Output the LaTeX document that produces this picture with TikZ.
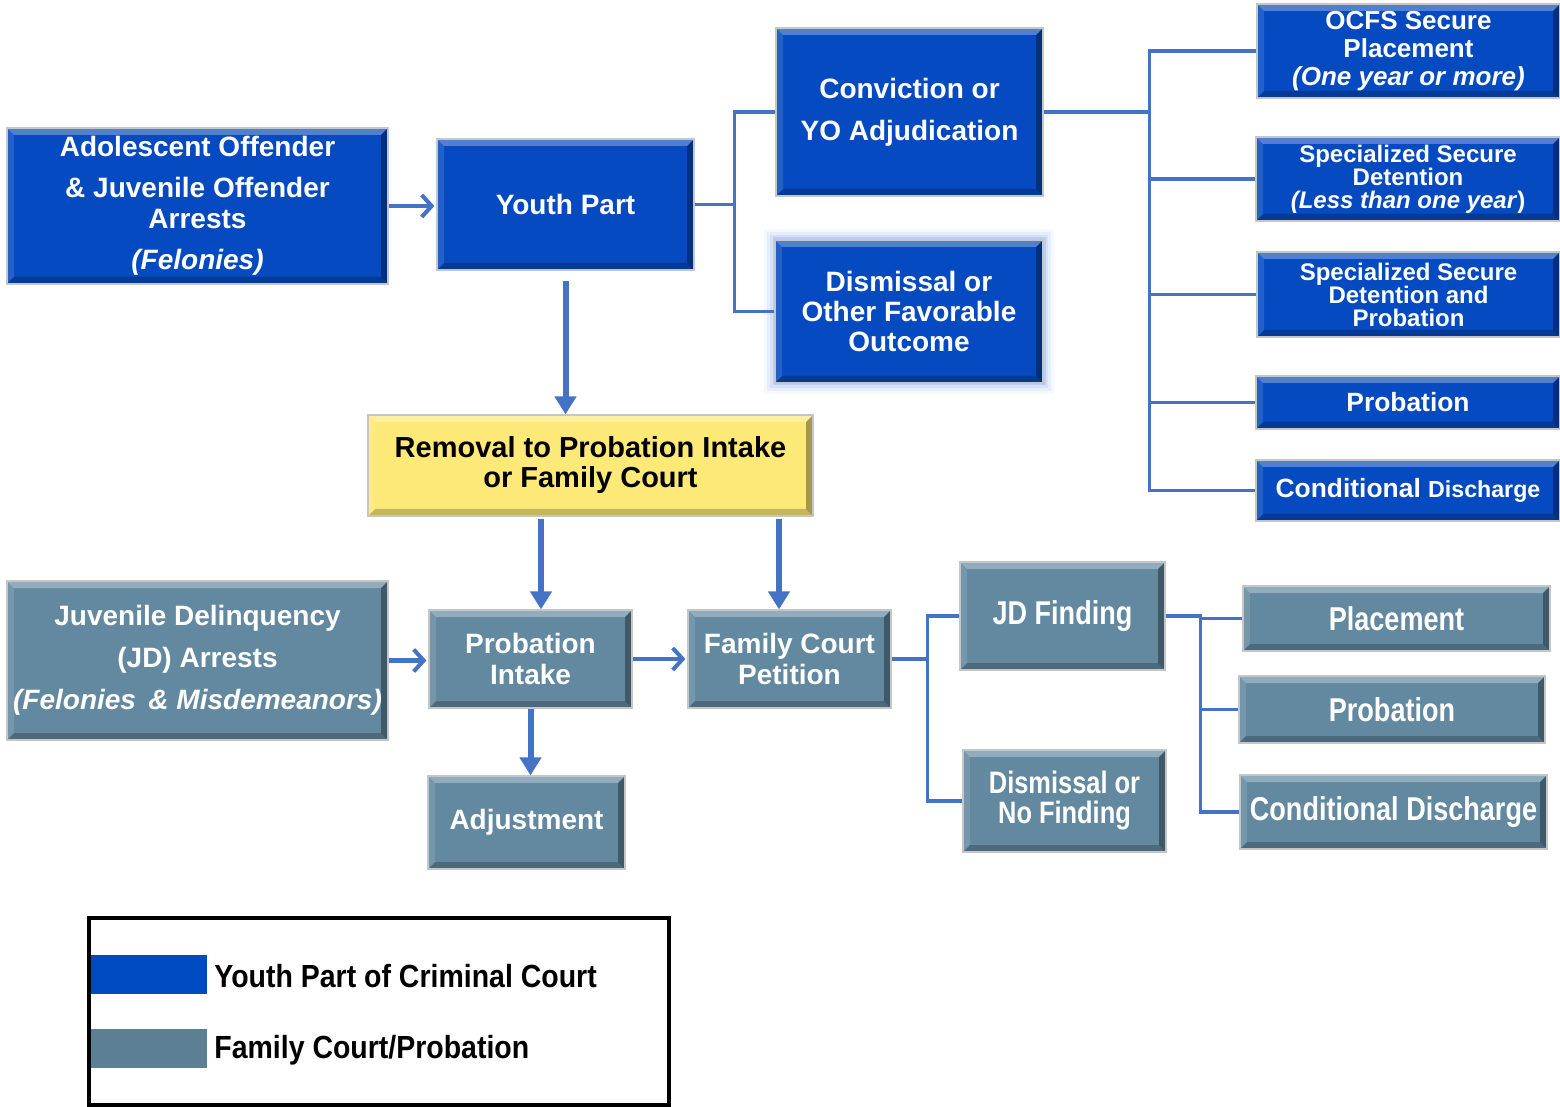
\documentclass[tikz,border=0pt]{standalone}
\usepackage{fontspec}
\setmainfont{Liberation Sans}
\newfontfamily\narrowfont[FakeStretch=0.82]{Liberation Sans}
\newfontfamily\legendfont[FakeStretch=0.89]{Liberation Sans}
\usetikzlibrary{arrows.meta,calc}

\definecolor{ypblue}{RGB}{6,74,193}
\definecolor{fcgray}{RGB}{98,137,160}
\definecolor{remyellow}{RGB}{253,233,120}
\definecolor{linkblue}{RGB}{68,114,196}
\definecolor{glowblue}{RGB}{110,150,230}
\definecolor{lgdblue}{RGB}{0,74,191}
\definecolor{lgdgray}{RGB}{92,127,148}

\newcommand\boxfont[2]{\fontsize{#1}{#2}\selectfont\bfseries}
\newcommand\narrowbox{\narrowfont\fontsize{16.5}{14.5}\selectfont\bfseries}

\tikzset{
  bevel/.style={path picture={
    \coordinate (q1) at (path picture bounding box.north west);
    \coordinate (q2) at (path picture bounding box.north east);
    \coordinate (q3) at (path picture bounding box.south east);
    \coordinate (q4) at (path picture bounding box.south west);
    \coordinate (qx1) at ($(q1)!#1!(q2)$);
    \coordinate (qx2) at ($(q2)!#1!(q1)$);
    \coordinate (qy1) at ($(q1)!#1!(q4)$);
    \coordinate (qy2) at ($(q4)!#1!(q1)$);
    \fill[white,opacity=.3] (q1) -- (q2) -- (qx2 |- qy1) -- (qx1 |- qy1) -- cycle;
    \fill[white,opacity=.12] (q1) -- (qx1 |- qy1) -- (qx1 |- qy2) -- (q4) -- cycle;
    \fill[black,opacity=.35] (q2) -- (q3) -- (qx2 |- qy2) -- (qx2 |- qy1) -- cycle;
    \fill[black,opacity=.22] (q4) -- (qx1 |- qy2) -- (qx2 |- qy2) -- (q3) -- cycle;
  }},
  bevel/.default=3.5pt
}

\begin{document}
\begin{tikzpicture}[x=0.5pt,y=0.5pt,yscale=-1,
  ypbox/.style={bevel, fill=ypblue, draw=gray!45, line width=0.6pt, text=white, align=center, inner sep=0pt, font=\boxfont{14}{15.5}},
  fcbox/.style={ypbox, fill=fcgray},
  rembox/.style={ypbox, fill=remyellow, text=black},
  glow/.style={preaction={draw=glowblue, line width=11pt, opacity=.07},
               preaction={draw=glowblue, line width=8pt, opacity=.1},
               preaction={draw=glowblue, line width=5pt, opacity=.15},
               preaction={draw=glowblue, line width=2.5pt, opacity=.25}},
  link/.style={draw=linkblue, line width=1.6pt},
  harrow/.style={link, line width=2.2pt, -{Straight Barb[length=5pt,width=11pt,line width=2pt]}},
  varrow/.style={link, line width=3pt, -{Triangle[length=9pt,width=10.5pt]}}]
\useasboundingbox (0,0) rectangle (1560,1107);

% Youth Part of criminal court
\node[ypbox, minimum width=190.5pt, minimum height=78pt] (ao) at (197.5,206) {Adolescent Offender\\[5pt]\& Juvenile Offender\\Arrests\\[5pt]\textit{(Felonies)}};
\node[ypbox, minimum width=128.5pt, minimum height=65.5pt] (yp) at (565.5,204.5) {Youth Part};
\node[ypbox, minimum width=133.5pt, minimum height=84pt, font=\boxfont{14}{21}] (conv) at (909.5,112) {Conviction or\\YO Adjudication};
\node[ypbox, glow, minimum width=134pt, minimum height=71.5pt, font=\boxfont{14}{15}] (dism) at (909,311.5) {Dismissal or\\Other Favorable\\Outcome};

% sentences
\node[ypbox, minimum width=151.5pt, minimum height=47pt, font=\boxfont{13}{14}] (ocfs) at (1408.5,51) {OCFS Secure\\Placement\\\textit{(One year or more)}};
\node[ypbox, minimum width=152pt, minimum height=42pt, font=\boxfont{12}{11.5}] (ssd) at (1408,179) {Specialized Secure\\Detention\\\textit{(Less\ than\ one\ year})};
\node[ypbox, minimum width=151.5pt, minimum height=42.5pt, font=\boxfont{12}{11.5}] (ssdp) at (1408.5,294.5) {Specialized Secure\\Detention and\\Probation};
\node[ypbox, minimum width=152pt, minimum height=26.5pt, font=\boxfont{13.2}{15}] (prob1) at (1408,402.5) {Probation};
\node[ypbox, minimum width=152pt, minimum height=30.5pt, font=\boxfont{13.2}{15}] (cd1) at (1408,490.5) {Conditional {\fontsize{11.6}{14}\selectfont Discharge}};

% removal
\node[rembox, minimum width=222.5pt, minimum height=50.5pt, font=\boxfont{14.5}{15}] (rem) at (590.5,465.5) {Removal to Probation Intake\\or Family Court};

% Family Court / Probation
\node[fcbox, minimum width=190.5pt, minimum height=79.5pt, font=\boxfont{14}{21}] (jd) at (197.5,660.5) {Juvenile Delinquency\\(JD) Arrests\\\textit{(Felonies \,\& Misdemeanors)}};
\node[fcbox, minimum width=101.5pt, minimum height=49pt] (pi) at (530.5,659) {Probation\\Intake};
\node[fcbox, minimum width=101.5pt, minimum height=49pt] (fcp) at (789.5,659) {Family Court\\Petition};
\node[fcbox, minimum width=98.5pt, minimum height=46.5pt] (adj) at (526.5,822.5) {Adjustment};
\node[fcbox, minimum width=102.5pt, minimum height=54pt, font=\narrowbox] (jdf) at (1062.5,616) {JD Finding};
\node[fcbox, minimum width=101.5pt, minimum height=51pt, font=\narrowfont\boxfont{15.5}{15}] (dnf) at (1064.5,801) {Dismissal or\\No Finding};
\node[fcbox, minimum width=153.5pt, minimum height=32.5pt, font=\narrowbox] (plc) at (1396.5,618.5) {Placement};
\node[fcbox, minimum width=153pt, minimum height=33.5pt, font=\narrowbox] (prob2) at (1392,709.5) {Probation};
\node[fcbox, minimum width=153.5pt, minimum height=37pt, font=\narrowbox] (cd2) at (1393.5,812) {Conditional Discharge};

% connectors, criminal court
\draw[harrow, shorten >=1pt] (ao.east) -- (ao.east -| yp.west);
\draw[link] (yp.east) -- ++(40,0) coordinate (ypfork) |- (conv.west);
\draw[link] (ypfork) |- (dism.west);
\draw[varrow, shorten <=5pt] (yp.south) -- (yp.south |- rem.north);
\draw[link] (conv.east) -- ++(106,0) coordinate (cvfork) |- (ocfs.west);
\foreach \n in {ssd,ssdp,prob1,cd1}
  \draw[link] (cvfork) |- (\n.west);

% connectors, family court
\coordinate (pitop) at ($(pi.north)+(10.5,0)$);
\coordinate (fctop) at ($(fcp.north)+(-10.5,0)$);
\draw[varrow, shorten <=1pt] (pitop |- rem.south) -- (pitop);
\draw[varrow, shorten <=1pt] (fctop |- rem.south) -- (fctop);
\draw[harrow, shorten >=1pt] (jd.east) -- (jd.east -| pi.west);
\draw[harrow, shorten >=1pt] (pi.east) -- (fcp.west);
\draw[varrow] (pi.south) -- (pi.south |- adj.north);
\draw[link] (fcp.east) -- ++(36,0) coordinate (fcfork) |- (jdf.west);
\draw[link] (fcfork) |- (dnf.west);
\draw[link] (jdf.east) -- ++(35,0) coordinate (jdfork) |- (plc.west);
\foreach \n in {prob2,cd2}
  \draw[link] (jdfork) |- (\n.west);

% legend
\draw[line width=2pt] (89,918) rectangle (669,1105);
\fill[lgdblue] (91,955) rectangle (207,994);
\fill[lgdgray] (91,1029) rectangle (207,1068);
\node[anchor=west, inner sep=0pt, font=\legendfont\fontsize{16}{18}\selectfont\bfseries] (lgdyp) at (214,976) {Youth Part of Criminal Court};
\node[anchor=west, inner sep=0pt, font=\legendfont\fontsize{16}{18}\selectfont\bfseries] (lgdfc) at (214,1050) {Family Court/Probation};

\end{tikzpicture}
\end{document}
